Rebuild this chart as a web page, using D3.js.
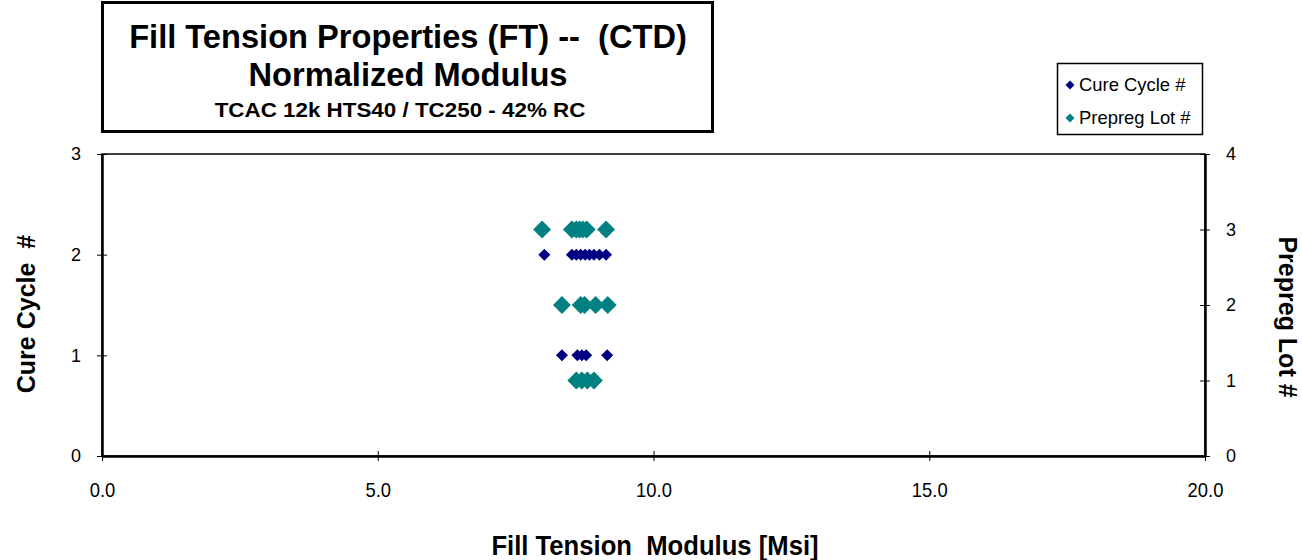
<!DOCTYPE html>
<html><head><meta charset="utf-8">
<script src="https://cdn.jsdelivr.net/npm/d3@7"></script>
<style>body{margin:0;background:#fff}svg{display:block}text{white-space:pre}</style>
</head><body>
<svg id="c" width="1302" height="560"></svg>
<script>
const cureModulus = [8.02, 8.52, 8.60, 8.68, 8.76, 8.84, 8.92, 9.02, 9.14,
                     8.34, 8.62, 8.70, 8.78, 9.16];
const cureCycle   = [2, 2, 2, 2, 2, 2, 2, 2, 2,
                     1, 1, 1, 1, 1];
const lotModulus  = [7.98, 8.52, 8.60, 8.66, 8.72, 8.79, 9.14,
                     8.34, 8.68, 8.75, 8.95, 9.17,
                     8.60, 8.70, 8.80, 8.92];
const lotNumber   = [3, 3, 3, 3, 3, 3, 3,
                     2, 2, 2, 2, 2,
                     1, 1, 1, 1];
const xTicks = [0, 5, 10, 15, 20];
const yLeftTicks = [0, 1, 2, 3];
const yRightTicks = [0, 1, 2, 3, 4];
const titleLines = ["Fill Tension Properties (FT) --  (CTD)", "Normalized Modulus", "TCAC 12k HTS40 / TC250 - 42% RC"];
const legendLabels = ["Cure Cycle #", "Prepreg Lot #"];
const colors = ["#000080", "#008080"];

const svg = d3.select("#c");
const L = 102, R = 1205, T = 154, B = 456;
const x = d3.scaleLinear().domain([0, 20]).range([L, R]);
const yL = d3.scaleLinear().domain([0, 3]).range([B, T]);
const yR = d3.scaleLinear().domain([0, 4]).range([B, T]);

svg.append("rect").attr("x", L).attr("y", T).attr("width", R - L).attr("height", B - T)
  .attr("fill", "none").attr("stroke", "#000").attr("stroke-width", 1.5);

const font = "Arial, 'Liberation Sans', sans-serif";
function sx(sel, cx, s) { sel.attr("transform", `translate(${cx},0) scale(${s},1) translate(${-cx},0)`); }

const gx = svg.append("g").attr("transform", `translate(0,${B})`)
  .call(d3.axisBottom(x).tickValues(xTicks).tickFormat(d3.format(".1f")).tickSizeInner(5).tickSizeOuter(0).tickPadding(22));
gx.selectAll(".tick line").attr("y1", -5);
const gl = svg.append("g").attr("transform", `translate(${L},0)`)
  .call(d3.axisLeft(yL).tickValues(yLeftTicks).tickFormat(d3.format("d")).tickSizeInner(5).tickSizeOuter(0).tickPadding(16));
gl.selectAll(".tick line").attr("x1", 5);
const gr = svg.append("g").attr("transform", `translate(${R},0)`)
  .call(d3.axisRight(yR).tickValues(yRightTicks).tickFormat(d3.format("d")).tickSizeInner(5).tickSizeOuter(0).tickPadding(16));
gr.selectAll(".tick line").attr("x1", -5);
[gx, gl, gr].forEach(g => {
  g.attr("font-family", font);
  g.select(".domain").attr("stroke", "#000").attr("stroke-width", 2.5);
  g.selectAll(".tick line").attr("stroke", "#000").attr("stroke-width", 1);
  g.selectAll(".tick text").attr("font-family", font).attr("font-size", 18).attr("fill", "#000");
});
gx.selectAll(".tick text").attr("font-size", 20).attr("transform", "scale(0.92,1)");

svg.append("text").attr("x", 655).attr("y", 555).attr("text-anchor", "middle")
  .attr("font-family", font).attr("font-weight", "bold").attr("font-size", 27)
  .call(sx, 655, 0.95)
  .text("Fill Tension  Modulus [Msi]");
svg.append("text").attr("transform", "translate(35,314) rotate(-90)").attr("text-anchor", "middle")
  .attr("font-family", font).attr("font-weight", "bold").attr("font-size", 25).text("Cure Cycle  #");
svg.append("text").attr("transform", "translate(1279,317) rotate(90)").attr("text-anchor", "middle")
  .attr("font-family", font).attr("font-weight", "bold").attr("font-size", 25).text("Prepreg Lot #");

const navySym = d3.symbol().type(d3.symbolSquare).size(72);
const tealSym = d3.symbol().type(d3.symbolSquare).size(160);
svg.append("g").selectAll("path").data(cureModulus.map((v, i) => [v, cureCycle[i]])).join("path")
  .attr("d", navySym).attr("fill", colors[0])
  .attr("transform", d => `translate(${x(d[0])},${yL(d[1])}) rotate(45)`);
svg.append("g").selectAll("path").data(lotModulus.map((v, i) => [v, lotNumber[i]])).join("path")
  .attr("d", tealSym).attr("fill", colors[1])
  .attr("transform", d => `translate(${x(d[0])},${yR(d[1])}) rotate(45)`);

svg.append("rect").attr("x", 102.5).attr("y", 2.5).attr("width", 610).attr("height", 129)
  .attr("fill", "#fff").attr("stroke", "#000").attr("stroke-width", 3);
const tx = 408;
svg.append("text").attr("x", tx).attr("y", 48).attr("text-anchor", "middle")
  .attr("font-family", font).attr("font-weight", "bold").attr("font-size", 34)
  .call(sx, tx, 0.96).text(titleLines[0]);
svg.append("text").attr("x", tx).attr("y", 86).attr("text-anchor", "middle")
  .attr("font-family", font).attr("font-weight", "bold").attr("font-size", 34)
  .call(sx, tx, 0.96).text(titleLines[1]);
svg.append("text").attr("x", 400).attr("y", 117).attr("text-anchor", "middle")
  .attr("font-family", font).attr("font-weight", "bold").attr("font-size", 20)
  .call(sx, 400, 1.12).text(titleLines[2]);

svg.append("rect").attr("x", 1057.5).attr("y", 63.5).attr("width", 145).attr("height", 71)
  .attr("fill", "#fff").attr("stroke", "#000").attr("stroke-width", 1.5);
const legSym = d3.symbol().type(d3.symbolSquare).size(40);
legendLabels.forEach((lab, i) => {
  const yy = 85 + i * 33;
  svg.append("path").attr("d", legSym).attr("fill", colors[i])
    .attr("transform", `translate(1070,${yy}) rotate(45)`);
  svg.append("text").attr("x", 1079).attr("y", yy + 6).attr("font-family", font)
    .attr("font-size", 19).call(sx, 1079, 0.97).text(lab);
});
</script>
</body></html>
